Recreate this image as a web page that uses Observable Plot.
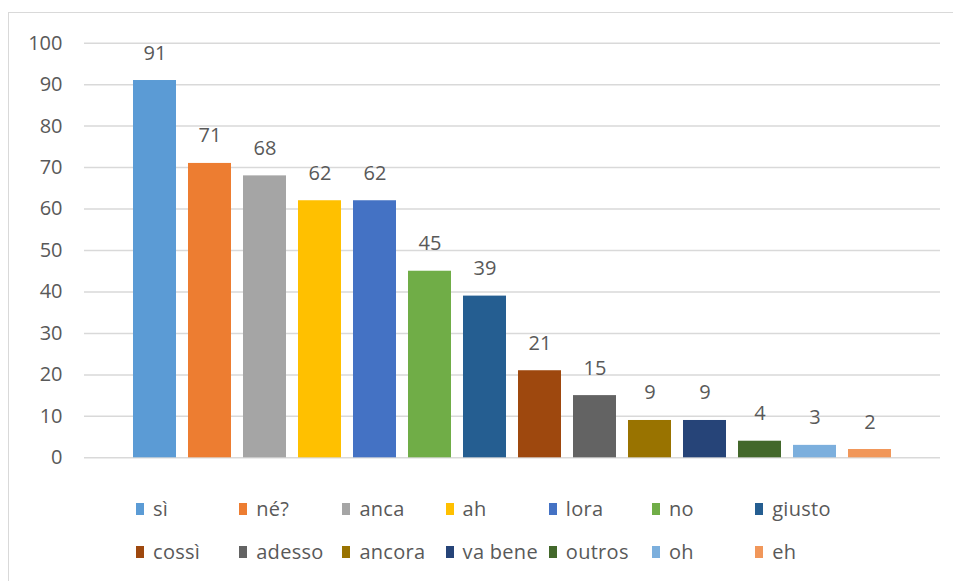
<!DOCTYPE html>
<html>
<head>
<meta charset="utf-8">
<script src="https://cdn.jsdelivr.net/npm/d3@7"></script>
<script src="https://cdn.jsdelivr.net/npm/@observablehq/plot@0.6"></script>
<style>
  html, body { margin: 0; padding: 0; background: #fff; width: 953px; height: 581px; overflow: hidden; }
  #frame { position: absolute; left: 8px; top: 12px; width: 1000px; height: 700px;
           border-left: 1.5px solid #d9d9d9; border-top: 1.5px solid #d9d9d9; }
  #chart { position: absolute; left: 0; top: 0; }
  #legend { position: absolute; left: 0; top: 480px; width: 953px; height: 101px;
            font-family: "Open Sans", sans-serif; font-size: 20px; letter-spacing: 0.3px; color: #595959; }
  .item { position: absolute; display: flex; align-items: center; white-space: nowrap; }
  .sw { width: 8px; height: 12px; margin-right: 9px; }
</style>
</head>
<body>
<div id="frame"></div>
<div id="chart"></div>
<div id="legend"></div>
<script>
const categories = ["sì", "né?", "anca", "ah", "lora", "no", "giusto", "cossì", "adesso", "ancora", "va bene", "outros", "oh", "eh"];
const values = [91, 71, 68, 62, 62, 45, 39, 21, 15, 9, 9, 4, 3, 2];
const colors = ["#5B9BD5", "#ED7D31", "#A5A5A5", "#FFC000", "#4472C4", "#70AD47", "#255E91",
                "#9E480E", "#636363", "#997300", "#264478", "#43682B", "#7CAFDD", "#F1975A"];
const yTicks = [0, 10, 20, 30, 40, 50, 60, 70, 80, 90, 100];

const data = categories.map((c, i) => ({cat: c, value: values[i]}));

const chart = Plot.plot({
  width: 953,
  height: 480,
  marginLeft: 84,
  marginRight: 13,
  marginTop: 42.7,
  marginBottom: 22.7,
  style: {fontFamily: "'Open Sans', sans-serif", fontSize: "20px", color: "#595959", background: "transparent"},
  x: {domain: categories, range: [125.6, 898.4], paddingInner: 0.21, paddingOuter: 0.105, axis: null},
  y: {domain: [0, 100], ticks: yTicks, label: null},
  color: {domain: categories, range: colors},
  marks: [
    Plot.ruleY(yTicks, {stroke: "#d9d9d9", strokeWidth: 1.5}),
    Plot.axisY({ticks: yTicks, tickSize: 0, tickPadding: 22, label: null, fill: "#595959", fontSize: 20}),
    Plot.barY(data, {x: "cat", y: "value", fill: "cat"}),
    Plot.text(data, {x: "cat", y: "value", text: d => String(d.value), dy: -21, lineAnchor: "bottom",
                     fill: "#595959", fontSize: 20})
  ]
});
document.getElementById("chart").appendChild(chart);

const legend = document.getElementById("legend");
categories.forEach((c, i) => {
  const row = Math.floor(i / 7), col = i % 7;
  const item = document.createElement("div");
  item.className = "item";
  item.style.left = (136 + col * 103.2) + "px";
  item.style.top = (row === 0 ? 15 : 58) + "px";
  const sw = document.createElement("span");
  sw.className = "sw";
  sw.style.background = colors[i];
  const t = document.createElement("span");
  t.textContent = c;
  item.appendChild(sw);
  item.appendChild(t);
  legend.appendChild(item);
});
</script>
</body>
</html>
